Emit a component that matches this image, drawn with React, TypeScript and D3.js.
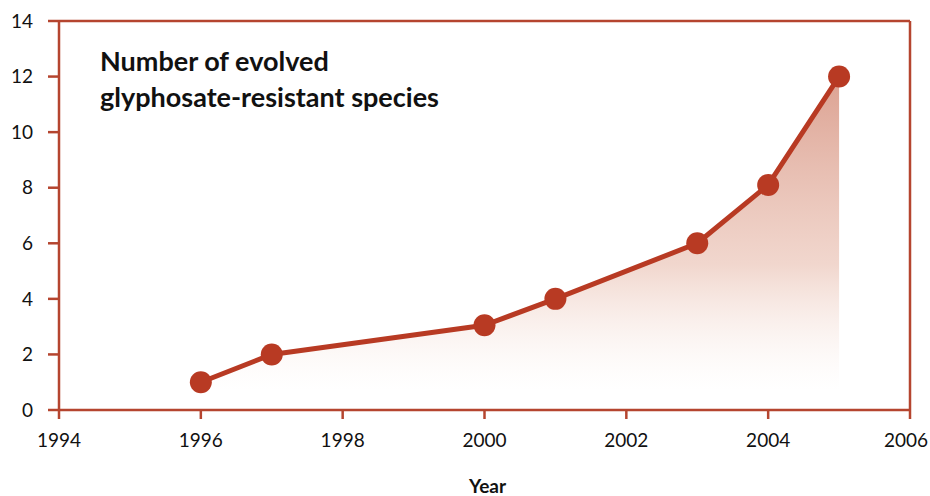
import React from "react";
import * as d3 from "d3";

const years = [1996, 1997, 2000, 2001, 2003, 2004, 2005];
const counts = [1, 2, 3.05, 4, 6, 8.1, 12];
const xTicks = [1994, 1996, 1998, 2000, 2002, 2004, 2006];
const yTicks = [0, 2, 4, 6, 8, 10, 12, 14];
const titleLines = ["Number of evolved", "glyphosate-resistant species"];
const xLabel = "Year";

const W = 930, H = 496;
const m = { left: 59, right: 20, top: 21, bottom: 86 };
const FRAME = "#b5452f";
const LINE = "#b83a23";
const FONT = "Lato, 'Open Sans', 'Liberation Sans', sans-serif";

export default function App() {
  const x = d3.scaleLinear().domain([1994, 2006]).range([m.left, W - m.right]);
  const y = d3.scaleLinear().domain([0, 14]).range([H - m.bottom, m.top]);
  const pts = years.map((yr, i) => [yr, counts[i]] as [number, number]);
  const line = d3.line<[number, number]>().x(d => x(d[0])).y(d => y(d[1]))(pts) || "";
  const area = d3.area<[number, number]>().x(d => x(d[0])).y0(y(0.7)).y1(d => y(d[1]))(pts) || "";
  const x0 = x(1994), x1 = x(2006), yb = y(0), yt = y(14);
  return (
    <svg width={W} height={H} style={{ display: "block", position: "absolute", left: 0, top: 0 }}>
      <defs>
        <linearGradient id="fillg" x1="0" y1={y(12)} x2="0" y2={y(0.7)} gradientUnits="userSpaceOnUse">
          <stop offset="0" stopColor="#d38a76" stopOpacity={0.8} />
          <stop offset="0.6" stopColor="#e3ae9c" stopOpacity={0.5} />
          <stop offset="1" stopColor="#f6e4dc" stopOpacity={0} />
        </linearGradient>
      </defs>
      <rect x={0} y={0} width={W} height={H} fill="#fff" />
      <path d={area} fill="url(#fillg)" />
      <g stroke={FRAME} strokeWidth={2.5} fill="none">
        <line x1={x0} y1={yt} x2={x1} y2={yt} />
        <line x1={x1} y1={yt} x2={x1} y2={yb} />
        <line x1={x0} y1={yb} x2={x1} y2={yb} />
        <line x1={x0} y1={yt} x2={x0} y2={yb} />
        {yTicks.map(t => <line key={"yt" + t} x1={x0 - 11} x2={x0} y1={y(t)} y2={y(t)} />)}
        {xTicks.map(t => <line key={"xt" + t} x1={x(t)} x2={x(t)} y1={yb} y2={yb + 9} />)}
      </g>
      {yTicks.map(t => (
        <text key={"yl" + t} x={33} y={y(t)} dy="0.35em" textAnchor="end" fontFamily={FONT} fontSize={19} fill="#111">{t}</text>
      ))}
      {xTicks.map((t, i) => {
        const last = i === xTicks.length - 1;
        return (
          <text key={"xl" + t} x={last ? 928 : x(t)} y={447} textAnchor={last ? "end" : "middle"} fontFamily={FONT} fontSize={19} fill="#111">{t}</text>
        );
      })}
      <text x={(x0 + x1) / 2 + 3} y={493} textAnchor="middle" fontFamily={FONT} fontSize={19} fontWeight="bold" fill="#111">{xLabel}</text>
      {titleLines.map((l, i) => (
        <text key={l} x={100} y={71 + i * 36} fontFamily={FONT} fontSize={27} fontWeight="bold" fill="#111">{l}</text>
      ))}
      <path d={line} fill="none" stroke={LINE} strokeWidth={5} strokeLinejoin="round" />
      {pts.map(d => (
        <circle key={d[0]} cx={x(d[0])} cy={y(d[1])} r={11} fill={LINE} />
      ))}
    </svg>
  );
}
